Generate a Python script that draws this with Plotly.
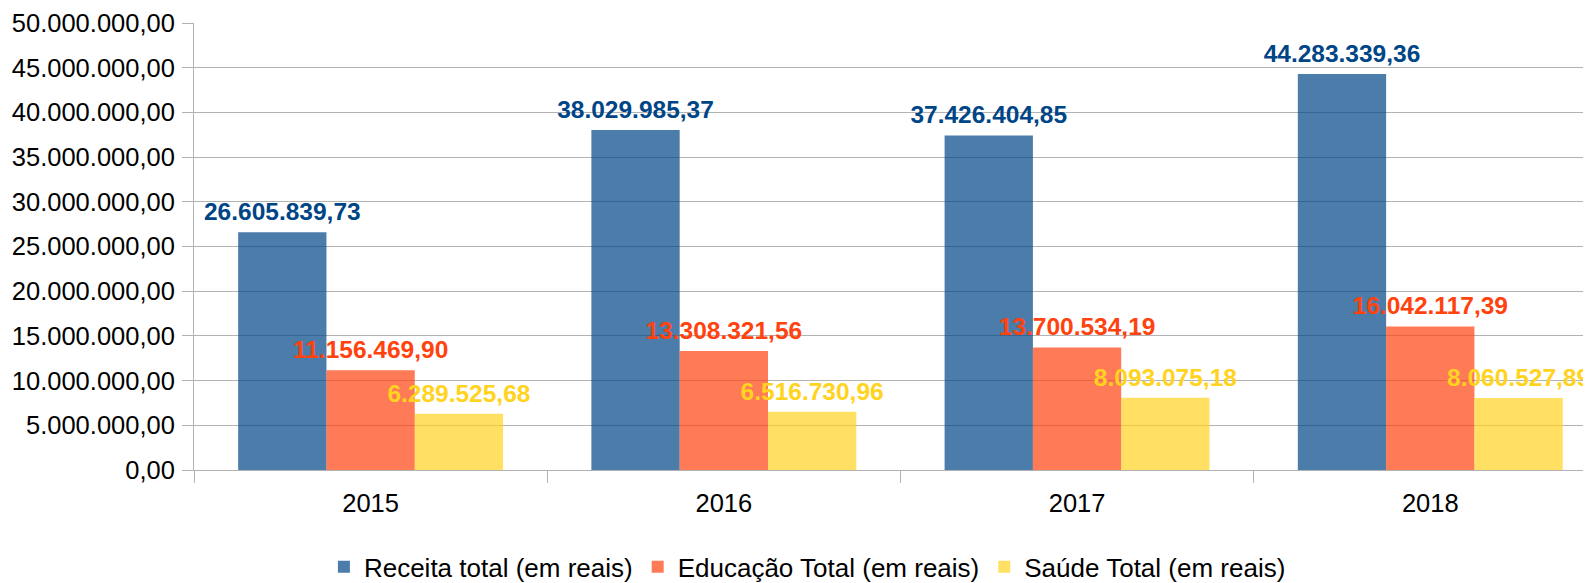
import plotly.graph_objects as go

years = ["2015", "2016", "2017", "2018"]
receita = [26605839.73, 38029985.37, 37426404.85, 44283339.36]
educacao = [11156469.90, 13308321.56, 13700534.19, 16042117.39]
saude = [6289525.68, 6516730.96, 8093075.18, 8060527.89]
y_ticks = [0, 5e6, 10e6, 15e6, 20e6, 25e6, 30e6, 35e6, 40e6, 45e6, 50e6]

series = [
    ("Receita total (em reais)", receita, "rgba(0,69,134,0.7)", "#004586"),
    ("Educação Total (em reais)", educacao, "rgba(255,66,14,0.7)", "#ff420e"),
    ("Saúde Total (em reais)", saude, "rgba(255,211,32,0.7)", "#ffd320"),
]

FONT = "Liberation Sans, Arial, sans-serif"

fig = go.Figure()
for i, (name, vals, fill, col) in enumerate(series):
    fig.add_trace(go.Bar(
        x=years, y=vals, name=name, offsetgroup=str(i),
        marker=dict(color=fill, line=dict(width=0)),
    ))
# value labels, grouped the same way as the bars
for i, (name, vals, fill, col) in enumerate(series):
    fig.add_trace(go.Scatter(
        x=years, y=vals, mode="markers+text", offsetgroup=str(i),
        marker=dict(size=8, opacity=0),
        texttemplate="%{y:,.2f}", textposition="top center",
        textfont=dict(family=FONT, size=24.5, color=col, weight="bold"),
        cliponaxis=False, showlegend=False, hoverinfo="skip",
    ))

# page body has an 8px default margin: figure is sized/offset to compensate
fig.update_layout(
    width=1583, height=575,
    margin=dict(l=186, r=0, t=15, b=113, autoexpand=False),
    paper_bgcolor="white", plot_bgcolor="white",
    separators=",.",
    barmode="group", bargap=0.25, bargroupgap=0,
    scattermode="group", scattergap=0.25,
    font=dict(family=FONT, size=25.5, color="#000000"),
    showlegend=True,
    legend=dict(
        orientation="h", xref="container", yref="container",
        x=0.505, xanchor="center", y=0.028, yanchor="middle",
        font=dict(size=26, color="#000000"),
        itemsizing="constant",
    ),
    xaxis=dict(
        type="category", range=[-0.5, 3.455], automargin=False,
        showline=True, linecolor="#b3b3b3", linewidth=1,
        ticks="outside", tickson="boundaries", ticklen=12, tickcolor="#b3b3b3",
        showgrid=False, tickfont=dict(size=25.5), ticklabelstandoff=10,
    ),
    yaxis=dict(
        range=[0, 50e6], tickvals=y_ticks, tickformat=",.2f", automargin=False,
        showline=True, linecolor="#b3b3b3", linewidth=1,
        ticks="outside", ticklen=11, tickcolor="#b3b3b3",
        showgrid=True, gridcolor="#b3b3b3", gridwidth=1,
        zeroline=False, tickfont=dict(size=25.5), ticklabelstandoff=2,
    ),
)

fig.write_html("out.html")
